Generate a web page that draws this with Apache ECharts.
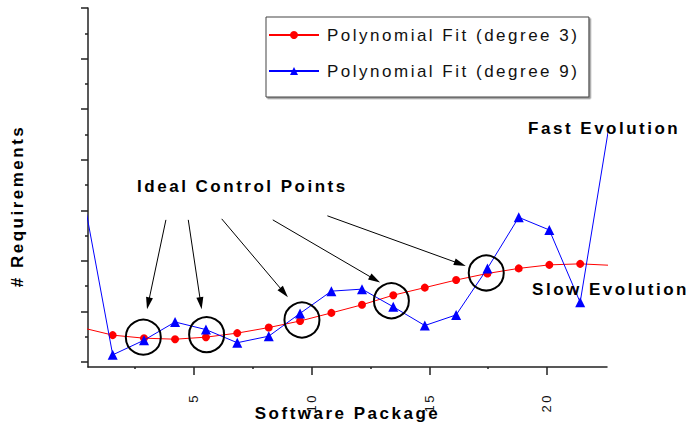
<!DOCTYPE html>
<html>
<head>
<meta charset="utf-8">
<script src="https://cdn.jsdelivr.net/npm/echarts@6/dist/echarts.min.js"></script>
<style>
  html, body { margin: 0; padding: 0; background: #fff; }
  #chart { width: 689px; height: 428px; }
  #chart text { letter-spacing: 2.5px; }
</style>
</head>
<body>
<div id="chart"></div>
<script>
// ---- data ----
const packages = [0.22, 1.55, 2.88, 4.2, 5.51, 6.84, 8.18, 9.51, 10.84, 12.14, 13.47, 14.81, 16.14, 17.47, 18.8, 20.1, 21.41, 22.74];
const fitDegree3 = [0.68, 0.53, 0.47, 0.45, 0.49, 0.57, 0.68, 0.81, 0.97, 1.13, 1.32, 1.47, 1.62, 1.75, 1.85, 1.92, 1.94, 1.91];
const fitDegree9 = [3.48, 0.14, 0.43, 0.79, 0.64, 0.38, 0.51, 0.96, 1.40, 1.44, 1.09, 0.72, 0.93, 1.85, 2.86, 2.61, 1.18, 4.96];
const seriesNames = ['Polynomial Fit (degree 3)', 'Polynomial Fit (degree 9)'];
const xTickValues = [5, 10, 15, 20];
const xMinorTicks = [2.5, 7.5, 12.5, 17.5];
const yTickValues = [0, 1, 2, 3, 4, 5, 6, 7];
const yMinorTicks = [0.5, 1.5, 2.5, 3.5, 4.5, 5.5, 6.5];
const controlPoints = [[2.85, 0.49], [5.54, 0.54], [9.59, 0.83], [13.39, 1.21], [17.42, 1.76]];
const arrowStarts = [[3.81, 2.81], [4.76, 2.81], [6.18, 2.83], [8.35, 2.81], [10.67, 2.89]];
const arrowEnds = [[3.06, 1.16], [5.29, 1.16], [8.83, 1.37], [12.69, 1.63], [16.31, 1.94]];
const noteTexts = ['Ideal Control Points', 'Fast Evolution', 'Slow Evolution'];
const notePositions = [[7.06, 3.46], [22.43, 4.61], [22.7, 1.44]];
const xTitle = 'Software Package';
const yTitle = '# Requirements';

const FONT = 'Liberation Sans, Arial, Helvetica, sans-serif';
const AXIS_COLOR = '#222';
const TEXT_COLOR = '#000';
const X_MIN = 0.5, X_MAX = 22.55, Y_MIN = -0.1, Y_MAX = 7;

const chart = echarts.init(document.getElementById('chart'), null, { renderer: 'svg' });

const option = {
  animation: false,
  backgroundColor: '#fff',
  textStyle: { fontFamily: FONT },
  grid: { left: 88, right: 82, top: 8, bottom: 61, containLabel: false, outerBoundsMode: 'none' },
  legend: {
    data: seriesNames,
    orient: 'vertical',
    left: 266,
    top: 17,
    itemWidth: 50,
    itemHeight: 10,
    itemGap: 19,
    padding: [9.5, 72, 17.5, 2],
    borderColor: '#444',
    borderWidth: 1,
    backgroundColor: '#fff',
    shadowColor: 'rgba(0,0,0,0.45)',
    shadowOffsetX: 1.5,
    shadowOffsetY: 1.5,
    shadowBlur: 0,
    selectedMode: false,
    textStyle: { fontSize: 17, color: '#111', fontFamily: FONT, padding: [0, 0, 0, 3] }
  },
  xAxis: [
    {
      type: 'value', min: X_MIN, max: X_MAX, position: 'bottom',
      name: xTitle, nameLocation: 'middle', nameGap: 38, nameMoveOverlap: false,
      nameTextStyle: { fontSize: 17, fontWeight: 'bold', color: TEXT_COLOR, fontFamily: FONT },
      axisLine: { show: true, onZero: false, lineStyle: { color: AXIS_COLOR, width: 1.5 } },
      axisTick: { show: true, length: 8, customValues: xTickValues, lineStyle: { color: AXIS_COLOR, width: 1.5 } },
      axisLabel: { show: true, customValues: xTickValues, rotate: 90, margin: 26, fontSize: 13, color: '#111', fontFamily: FONT },
      splitLine: { show: false }
    },
    {
      type: 'value', min: X_MIN, max: X_MAX, position: 'bottom',
      axisLine: { show: false, onZero: false },
      axisTick: { show: true, length: 2, customValues: xMinorTicks, lineStyle: { color: AXIS_COLOR, width: 1.5 } },
      axisLabel: { show: false },
      splitLine: { show: false }
    }
  ],
  yAxis: [
    {
      type: 'value', min: Y_MIN, max: Y_MAX, position: 'left',
      axisLine: { show: true, onZero: false, lineStyle: { color: AXIS_COLOR, width: 1.5 } },
      axisTick: { show: true, length: 7, customValues: yTickValues, lineStyle: { color: AXIS_COLOR, width: 1.5 } },
      axisLabel: { show: false },
      splitLine: { show: false }
    },
    {
      type: 'value', min: Y_MIN, max: Y_MAX, position: 'left',
      axisLine: { show: false, onZero: false },
      axisTick: { show: true, length: 3, customValues: yMinorTicks, lineStyle: { color: AXIS_COLOR, width: 1.5 } },
      axisLabel: { show: false },
      splitLine: { show: false }
    }
  ],
  graphic: [
    {
      type: 'text', x: 17.5, y: 206, rotation: Math.PI / 2,
      style: { text: yTitle, fontSize: 17, fontWeight: 'bold', fill: TEXT_COLOR, fontFamily: FONT, align: 'center', verticalAlign: 'middle' }
    }
  ],
  series: [
    {
      name: seriesNames[0], type: 'line', clip: true,
      data: packages.map((x, i) => [x, fitDegree3[i]]),
      symbol: 'circle', symbolSize: 8, showAllSymbol: true,
      itemStyle: { color: '#ff0000', opacity: 1 },
      lineStyle: { color: '#ff0000', width: 1 },
      emphasis: { disabled: true }, z: 3
    },
    {
      name: seriesNames[1], type: 'line', clip: true,
      data: packages.map((x, i) => [x, fitDegree9[i]]),
      symbol: 'triangle', symbolSize: 10, showAllSymbol: true,
      itemStyle: { color: '#0000ff', opacity: 1 },
      lineStyle: { color: '#0000ff', width: 1 },
      emphasis: { disabled: true }, z: 4
    },
    {
      name: 'control points', type: 'scatter',
      data: controlPoints,
      symbol: 'circle', symbolSize: 35,
      itemStyle: { color: 'rgba(0,0,0,0)', borderColor: '#000', borderWidth: 2, opacity: 1 },
      emphasis: { disabled: true }, silent: true, z: 5
    },
    {
      name: 'arrows', type: 'line', data: [], silent: true,
      markLine: {
        silent: true, animation: false,
        symbol: ['none', 'triangle'], symbolSize: [7, 12],
        label: { show: false },
        lineStyle: { color: '#000', width: 1, type: 'solid', opacity: 1 },
        emphasis: { disabled: true },
        data: arrowStarts.map((s, i) => [{ coord: s }, { coord: arrowEnds[i] }])
      }
    },
    {
      name: 'notes', type: 'scatter', clip: false, silent: true,
      symbolSize: 0,
      itemStyle: { opacity: 1 },
      data: notePositions.map((p, i) => ({ value: p, name: noteTexts[i] })),
      label: {
        show: true, position: 'inside', formatter: (p) => p.name,
        fontSize: 17, fontWeight: 'bold', color: TEXT_COLOR, fontFamily: FONT,
        align: 'center', verticalAlign: 'middle', opacity: 1
      },
      emphasis: { disabled: true }, z: 6
    }
  ]
};

chart.setOption(option);
</script>
</body>
</html>
